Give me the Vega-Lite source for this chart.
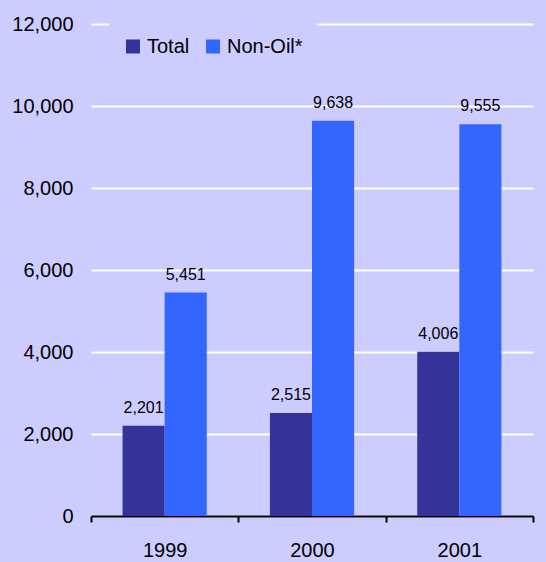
{
  "$schema": "https://vega.github.io/schema/vega-lite/v6.json",
  "width": 442,
  "height": 492,
  "autosize": "none",
  "padding": {"left": 91, "top": 24, "right": 13, "bottom": 46},
  "background": "#CCCCFF",
  "data": {
    "values": [
      {"year": "1999", "series": "Total", "value": 2201},
      {"year": "1999", "series": "Non-Oil*", "value": 5451},
      {"year": "2000", "series": "Total", "value": 2515},
      {"year": "2000", "series": "Non-Oil*", "value": 9638},
      {"year": "2001", "series": "Total", "value": 4006},
      {"year": "2001", "series": "Non-Oil*", "value": 9555}
    ]
  },
  "encoding": {
    "x": {
      "field": "year", "type": "nominal",
      "scale": {"paddingInner": 0, "paddingOuter": 0},
      "axis": {
        "title": null, "labelAngle": 0, "labelFontSize": 20, "labelColor": "#000000",
        "labelFont": "Liberation Sans", "domainColor": "#000000", "domainWidth": 2,
        "tickColor": "#000000", "tickWidth": 2, "tickSize": 6, "tickBand": "extent",
        "labelPadding": 18, "grid": false
      }
    },
    "xOffset": {
      "field": "series", "type": "nominal", "sort": ["Total", "Non-Oil*"],
      "scale": {"paddingOuter": 0.75, "paddingInner": 0}
    },
    "y": {
      "field": "value", "type": "quantitative",
      "scale": {"domain": [0, 12000], "nice": false},
      "axis": {
        "title": null, "values": [0, 2000, 4000, 6000, 8000, 10000, 12000], "format": ",d",
        "labelFontSize": 20, "labelColor": "#000000", "labelFont": "Liberation Sans",
        "domain": false, "ticks": false, "labelPadding": 18,
        "grid": true, "gridColor": "#FFFFFF", "gridWidth": 2, "gridOpacity": 1
      }
    }
  },
  "layer": [
    {
      "mark": {"type": "bar"},
      "encoding": {
        "color": {
          "field": "series", "type": "nominal",
          "scale": {"domain": ["Total", "Non-Oil*"], "range": ["#333399", "#3366FF"]},
          "legend": {
            "title": null, "orient": "none", "direction": "horizontal",
            "legendX": 18, "legendY": -1.5, "padding": 14,
            "fillColor": "#CCCCFF", "strokeColor": null,
            "symbolType": "square", "symbolSize": 196, "symbolStrokeWidth": 0,
            "labelFontSize": 20, "labelFont": "Liberation Sans", "labelColor": "#000000",
            "labelOffset": 4, "columnPadding": 13
          }
        }
      }
    },
    {
      "mark": {"type": "text", "dy": -13, "baseline": "alphabetic", "fontSize": 16, "font": "Liberation Sans", "color": "#000000"},
      "encoding": {
        "text": {"field": "value", "type": "quantitative", "format": ","}
      }
    }
  ],
  "config": {"view": {"stroke": null}}
}
